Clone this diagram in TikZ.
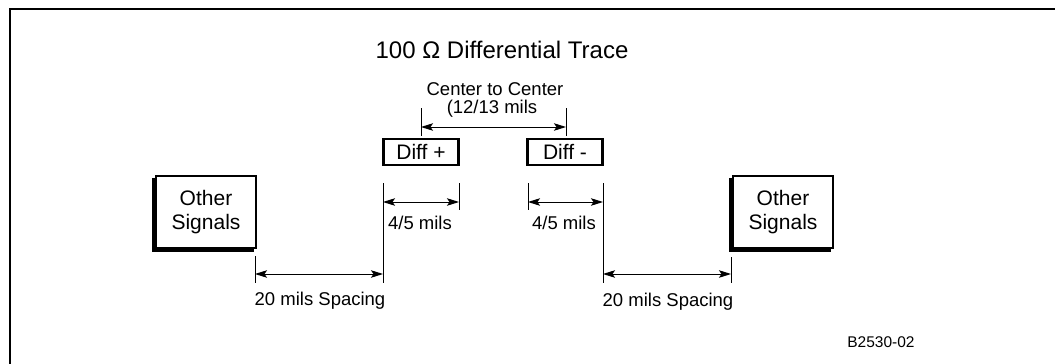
\documentclass[tikz,border=0pt]{standalone}
\usepackage{fontspec}
\setmainfont{Liberation Sans}
\usetikzlibrary{arrows.meta}
\tikzset{
  sigbox/.style={draw, line width=2.2pt, fill=white, minimum width=100pt, minimum height=72pt, inner sep=0pt, align=center, font=\fontsize{21}{24}\selectfont},
  diffbox/.style={draw, line width=2.2pt, fill=white, minimum width=75pt, minimum height=26pt, inner sep=0pt, font=\fontsize{21}{24}\selectfont},
  shadowbox/.style={fill=black, minimum width=102pt, minimum height=74pt, inner sep=0pt},
  tick/.style={line width=1pt},
  dim/.style={line width=1pt, {Stealth[length=12pt,width=7.5pt,inset=2.5pt]}-{Stealth[length=12pt,width=7.5pt,inset=2.5pt]}},
  dimlabel/.style={font=\fontsize{18.5}{20}\selectfont, inner sep=0pt},
  frame/.style={line width=2.2pt}
}
\begin{document}
\begin{tikzpicture}[x=1pt,y=-1pt]
\useasboundingbox (0,0) rectangle (1055,364);
% frame
\coordinate (fbl) at (10,364); \coordinate (ftl) at (10,9); \coordinate (ftr) at (1055,9);
\draw[frame] (fbl) -- (ftl) -- (ftr);
% title
\node[font=\fontsize{24}{28}\selectfont, inner sep=0pt] (title) at (502,50) {100 Ω Differential Trace};
% left other signals
\node[shadowbox] (ls) at (203,214.5) {};
\node[sigbox] (left) at (206,212) {Other\\Signals};
% right other signals
\node[shadowbox] (rs) at (780,214.5) {};
\node[sigbox] (right) at (783,212) {Other\\Signals};
% diff boxes
\node[diffbox] (dp) at (421,152) {Diff +};
\node[diffbox] (dm) at (565,152) {Diff -};
% center to center
\node[dimlabel, align=center] (ctc) at (495,100) {Center to Center\\[-2pt]\hspace*{-6pt}(12/13 mils};
\coordinate (c1t) at (421,108); \coordinate (c1b) at (421,136); \coordinate (c1m) at (421,127);
\coordinate (c2t) at (566,108); \coordinate (c2b) at (566,136); \coordinate (c2m) at (566,127);
\draw[tick] (c1t) -- (c1b);
\draw[tick] (c2t) -- (c2b);
\draw[dim] (c1m) -- (c2m);
% left 4/5 mils
\coordinate (a1t) at (383,183); \coordinate (a1b) at (383,283); \coordinate (a1m) at (383,202);
\coordinate (a2t) at (459,183); \coordinate (a2b) at (459,210); \coordinate (a2m) at (459,202);
\draw[tick] (a1t) -- (a1b);
\draw[tick] (a2t) -- (a2b);
\draw[dim] (a1m) -- (a2m);
\node[dimlabel] (l45) at (420,223) {4/5 mils};
% right 4/5 mils
\coordinate (b1t) at (528,183); \coordinate (b1b) at (528,210); \coordinate (b1m) at (528,202);
\coordinate (b2t) at (603,183); \coordinate (b2b) at (603,283); \coordinate (b2m) at (603,202);
\draw[tick] (b1t) -- (b1b);
\draw[tick] (b2t) -- (b2b);
\draw[dim] (b1m) -- (b2m);
\node[dimlabel] (r45) at (564,223) {4/5 mils};
% left 20 mils
\coordinate (s1t) at (255,256); \coordinate (s1b) at (255,283); \coordinate (s1m) at (255,274);
\coordinate (a1s) at (383,274);
\draw[tick] (s1t) -- (s1b);
\draw[dim] (s1m) -- (a1s);
\node[dimlabel] (l20) at (320,301) {20 mils Spacing};
% right 20 mils
\coordinate (s2t) at (731,257); \coordinate (s2b) at (731,283); \coordinate (s2m) at (731,274);
\coordinate (b2s) at (603,274);
\draw[tick] (s2t) -- (s2b);
\draw[dim] (b2s) -- (s2m);
\node[dimlabel] (r20) at (668,302) {20 mils Spacing};
% figure id
\node[font=\fontsize{15.5}{18}\selectfont, inner sep=0pt] (fid) at (881,342) {B2530-02};
\end{tikzpicture}
\end{document}
